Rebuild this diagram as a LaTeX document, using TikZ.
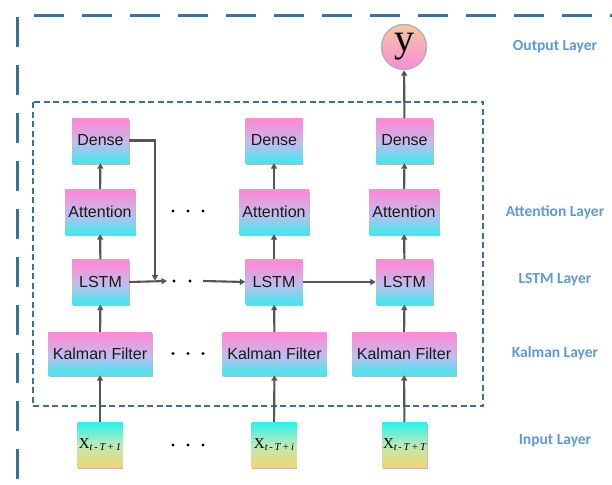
\documentclass[tikz,border=0pt]{standalone}
\usepackage{fontspec}
\setmainfont{Liberation Sans}
\newfontfamily\labelfont{Carlito}
\newfontfamily\seriffont{Liberation Serif}
\usetikzlibrary{arrows.meta,shadows}

\definecolor{frameblue}{HTML}{3F6D9C}
\definecolor{layerblue}{HTML}{5B9BD5}
\definecolor{arrowgray}{HTML}{555555}
\definecolor{boxpink}{HTML}{F78ED8}
\definecolor{boxmid}{HTML}{C2BCEC}
\definecolor{boxcyan}{HTML}{22F3F0}
\definecolor{inmid}{HTML}{BDE8B8}
\definecolor{inyellow}{HTML}{F7D46A}
\definecolor{ypeach}{HTML}{F4C6A2}
\definecolor{ypink}{HTML}{F98DD8}

% vertical blends, bottom (0bp) to top (100bp)
\pgfdeclareverticalshading{cellblend}{100bp}{color(0bp)=(boxcyan); color(20bp)=(boxcyan);
  color(48bp)=(boxmid); color(70bp)=(boxpink); color(100bp)=(boxpink)}
\pgfdeclareverticalshading{inputblend}{100bp}{color(0bp)=(inyellow); color(22bp)=(inyellow);
  color(50bp)=(inmid); color(76bp)=(boxcyan); color(100bp)=(boxcyan)}

\tikzset{
  cell/.style={rectangle, inner sep=0pt, shading=cellblend,
    font=\fontsize{16}{18}\selectfont, text=black!90,
    drop shadow={shadow xshift=0.6pt, shadow yshift=-1.6pt, fill=black!45, opacity=0.6}},
  densebox/.style={cell, minimum width=57pt, minimum height=45pt},
  attnbox/.style={cell, minimum width=70pt, minimum height=45pt},
  kalmanbox/.style={cell, minimum width=104pt, minimum height=43pt},
  inputbox/.style={rectangle, inner sep=0pt, minimum width=45pt, minimum height=45pt,
    shading=inputblend, font=\seriffont\fontsize{15}{18}\selectfont,
    drop shadow={shadow xshift=0.6pt, shadow yshift=-1.6pt, fill=black!45, opacity=0.6}},
  outnode/.style={circle, inner sep=0pt, minimum size=45pt, draw=black!30, line width=1.4pt,
    top color=ypeach, bottom color=ypink, font=\seriffont\fontsize{40}{40}\selectfont},
  arr/.style={draw=arrowgray, line width=2.1pt, -{Triangle[length=5.5pt,width=6pt]}},
  layerlabel/.style={font=\labelfont\bfseries\fontsize{15.5}{18}\selectfont, text=layerblue},
  dotmark/.style={circle, fill=black, inner sep=0pt, minimum size=3.4pt},
  outerframe/.style={draw=frameblue, line width=3pt, dash pattern=on 30pt off 18pt},
  innerframe/.style={draw=frameblue, line width=2.2pt, dash pattern=on 6pt off 3.5pt}
}

\newcommand{\xsub}[1]{X\raisebox{-0.35ex}{\fontsize{10.5}{12}\selectfont\itshape #1}}

\begin{document}
\begin{tikzpicture}[x=1pt,y=-1pt]
  \useasboundingbox (0,0) rectangle (612,484);

  % outer frame (top and left edges)
  \draw[outerframe] (34,16) -- (612,16);
  \draw[outerframe] (17,17) -- (17,484);

  % inner frame around the recurrent stack
  \draw[innerframe] (33,102) rectangle (483,406);

  % inputs
  \node[inputbox] (X1) at (100,444.5) {\xsub{t\,-\,T\,+\,1}};
  \node[inputbox] (X2) at (274,444.5) {\xsub{t\,-\,T\,+\,i}};
  \node[inputbox] (X3) at (404.5,444.5) {\xsub{t\,-\,T\,+\,T}};

  % Kalman filters
  \node[kalmanbox] (K1) at (100,353.5) {Kalman Filter};
  \node[kalmanbox] (K2) at (274.5,353.5) {Kalman Filter};
  \node[kalmanbox] (K3) at (404,353.5) {Kalman Filter};

  % LSTM cells
  \node[densebox] (L1) at (100.5,282) {LSTM};
  \node[densebox] (L2) at (274,282) {LSTM};
  \node[densebox] (L3) at (404.5,282) {LSTM};

  % attention
  \node[attnbox] (A1) at (100,211.5) {Attention};
  \node[attnbox] (A2) at (274,211.5) {Attention};
  \node[attnbox] (A3) at (404,211.5) {Attention};

  % dense
  \node[densebox] (D1) at (100.5,140.5) {Dense};
  \node[densebox] (D2) at (274,140.5) {Dense};
  \node[densebox] (D3) at (404.5,140.5) {Dense};

  % output
  \node[outnode] (Y) at (404,47) {\raisebox{1pt}{y}};

  % vertical flow
  \foreach \c in {1,2,3}{
    \draw[arr] (X\c) -- (K\c);
    \draw[arr] (K\c) -- (L\c);
    \draw[arr] (L\c) -- (A\c);
    \draw[arr] (A\c) -- (D\c);
  }
  \draw[arr] (D3) -- (Y);

  % recurrent links
  \coordinate (m1) at (155,280.5);
  \coordinate (a1) at (167,281);
  \coordinate (b1) at (203,281);
  \draw[arr] (D1.east) -| (m1);
  \draw[arr] (L1.east) -- (a1);
  \node[dotmark] (lsd1) at (174,281) {};
  \node[dotmark] (lsd2) at (190,281) {};
  \draw[arr] (b1) -- (L2.west);
  \draw[arr] (L2) -- (L3);

  % ellipses between columns
  \foreach \y/\n in {211/at, 353.5/kf, 445/in}{
    \node[dotmark] (\n1) at (173,\y) {};
    \node[dotmark] (\n2) at (188,\y) {};
    \node[dotmark] (\n3) at (203,\y) {};
  }

  % layer labels
  \node[layerlabel] (lo) at (555,47) {Output Layer};
  \node[layerlabel] (la) at (555,212) {Attention Layer};
  \node[layerlabel] (ll) at (555,280) {LSTM Layer};
  \node[layerlabel] (lk) at (555,353) {Kalman Layer};
  \node[layerlabel] (li) at (555,441) {Input Layer};
\end{tikzpicture}
\end{document}
